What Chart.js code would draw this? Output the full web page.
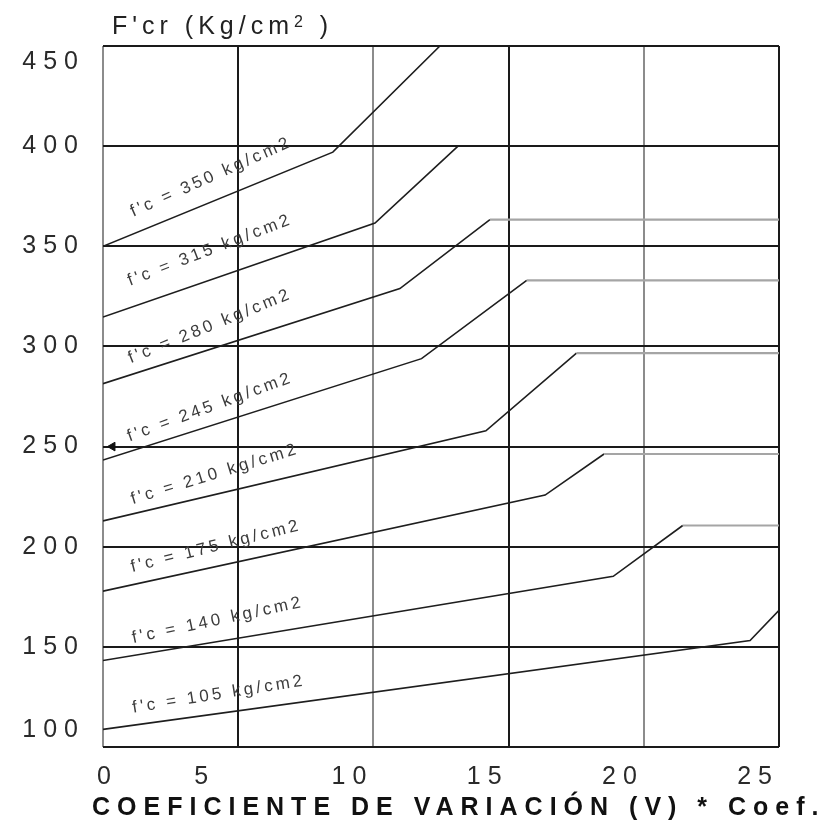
<!DOCTYPE html>
<html>
<head>
<meta charset="utf-8">
<script src="https://cdn.jsdelivr.net/npm/chart.js@4.4.1/dist/chart.umd.min.js"></script>
<style>
html, body { margin: 0; padding: 0; background: #fff; }
#wrap { width: 818px; height: 823px; }
</style>
</head>
<body>
<div id="wrap"><canvas id="FcrChart"></canvas></div>
<script>
// axis ticks
var xTicks = [0, 5, 10, 15, 20, 25];
var yTicks = [100, 150, 200, 250, 300, 350, 400, 450];

// one curve per f'c
var fcValues = [350, 315, 280, 245, 210, 175, 140, 105];
var startY = [350, 314.7, 281.4, 243.3, 212.9, 177.8, 143.2, 108.8];
var kinkX = [8.5, 10.06, 10.98, 11.78, 14.16, 16.35, 18.87, 23.93];
var kinkY = [397, 361.6, 328.9, 293.9, 257.9, 225.8, 185.2, 153.2];
var topX = [12.46, 13.13, 14.31, 15.67, 17.51, 18.53, 21.44, 25];
var topY = [450, 400, 363.3, 333, 296.7, 246.3, 210.6, 168.2];
var plateauEndX = [null, null, 25, 25, 25, 25, 25, null];

// little arrow head on the 250 line
var arrowPts = [{ x: 0.35, y: 250 }];

// where the rotated curve labels sit (x, y, angle in degrees)
var labelX = [4.0, 3.96, 3.96, 3.96, 4.14, 4.18, 4.25, 4.29];
var labelY = [384.6, 348.1, 310.1, 269.7, 236.2, 200.2, 163.3, 126.3];
var labelAngle = [-24, -21, -22, -20, -17, -14, -12, -9];

// the scan's tick labels are not quite on the grid lines (px nudges)
var xLabelShift = [15, -23, 0, 0, 0, 0];
var yLabelShift = [-17, 0, 0, 0, 0, 0, 0, 16];

var FONT = "'Liberation Sans', Arial, sans-serif";

var datasets = fcValues.map(function(fc, i) {
	var pts = [
		{ x: 0, y: startY[i] },
		{ x: kinkX[i], y: kinkY[i] },
		{ x: topX[i], y: topY[i] }
	];
	if (plateauEndX[i] !== null) pts.push({ x: plateauEndX[i], y: topY[i] });
	return {
		type: 'line',
		label: "f'c = " + fc + " kg/cm2",
		data: pts,
		borderColor: '#1e1e1e',
		borderWidth: 1.6,
		pointRadius: 0,
		fill: false,
		tension: 0,
		segment: {
			borderColor: function(c) {
				return c.p0.parsed.y === c.p1.parsed.y ? '#a5a5a5' : '#1e1e1e';
			},
			borderWidth: function(c) {
				return c.p0.parsed.y === c.p1.parsed.y ? 2.2 : 1.6;
			}
		}
	};
});

datasets.push({
	type: 'scatter',
	label: 'arrow',
	data: arrowPts,
	pointStyle: 'triangle',
	rotation: -90,
	pointRadius: 5,
	backgroundColor: '#111',
	borderColor: '#111',
	borderWidth: 1
});

var textPlugin = {
	id: 'textPlugin',
	afterLayout: function(chart) {
		chart.scales.x.getLabelItems().forEach(function(it, i) {
			it.options.translation[0] += xLabelShift[i] || 0;
		});
		chart.scales.y.getLabelItems().forEach(function(it, i) {
			it.options.translation[1] += yLabelShift[i] || 0;
		});
	},
	beforeDraw: function(chart) {
		chart.ctx.letterSpacing = '7px';
	},
	afterDatasetsDraw: function(chart) {
		var ctx = chart.ctx;
		var xs = chart.scales.x, ys = chart.scales.y;
		ctx.save();
		ctx.letterSpacing = '3.2px';
		ctx.font = '17px ' + FONT;
		ctx.fillStyle = '#3c3c3c';
		ctx.textAlign = 'center';
		ctx.textBaseline = 'middle';
		fcValues.forEach(function(fc, i) {
			ctx.save();
			ctx.translate(xs.getPixelForValue(labelX[i]), ys.getPixelForValue(labelY[i]));
			ctx.rotate(labelAngle[i] * Math.PI / 180);
			ctx.fillText("f'c = " + fc + " kg/cm2", 0, 0);
			ctx.restore();
		});
		ctx.restore();
	},
	afterDraw: function(chart) {
		var ctx = chart.ctx;
		ctx.save();
		ctx.fillStyle = '#222';
		ctx.textAlign = 'left';
		ctx.textBaseline = 'alphabetic';
		// y title
		ctx.letterSpacing = '5px';
		ctx.font = '25px ' + FONT;
		var t1 = "F'cr (Kg/cm";
		ctx.fillText(t1, 112, 34);
		var w1 = ctx.measureText(t1).width;
		ctx.font = '16px ' + FONT;
		ctx.fillText('2', 112 + w1, 27);
		var w2 = ctx.measureText('2').width;
		ctx.font = '25px ' + FONT;
		ctx.fillText(' )', 112 + w1 + w2, 34);
		// x title
		ctx.letterSpacing = '7px';
		ctx.font = 'bold 25px ' + FONT;
		ctx.fillStyle = '#111';
		ctx.fillText('COEFICIENTE DE VARIACIÓN (V) * Coef.', 92, 815);
		ctx.restore();
	}
};

var ctx = FcrChart.getContext('2d');
var config = {
	type: 'line',
	data: { datasets: datasets },
	options: {
		responsive: true,
		maintainAspectRatio: false,
		animation: false,
		layout: { padding: { top: 46, right: 39, left: 0, bottom: 0 } },
		plugins: {
			legend: { display: false },
			tooltip: { enabled: false }
		},
		scales: {
			x: {
				type: 'linear',
				min: 0,
				max: 25,
				afterBuildTicks: function(s) { s.ticks = xTicks.map(function(v) { return { value: v }; }); },
				afterFit: function(s) { s.height = 76; },
				border: { display: false },
				grid: {
					drawTicks: false,
					lineWidth: 2,
					color: function(c) {
						return (c.tick && c.tick.value % 10 === 0) ? '#8c8c8c' : '#1a1a1a';
					}
				},
				ticks: {
					align: 'end',
					padding: 15,
					color: '#2a2a2a',
					font: { family: FONT, size: 25 }
				}
			},
			y: {
				type: 'linear',
				min: 100,
				max: 450,
				afterBuildTicks: function(s) { s.ticks = yTicks.map(function(v) { return { value: v }; }); },
				afterFit: function(s) { s.width = 103; },
				border: { display: false },
				grid: {
					drawTicks: false,
					lineWidth: 2,
					color: '#1a1a1a'
				},
				ticks: {
					padding: 18,
					color: '#2a2a2a',
					font: { family: FONT, size: 25 }
				}
			}
		}
	},
	plugins: [textPlugin]
};

var chart = new Chart(ctx, config);
</script>
</body>
</html>
